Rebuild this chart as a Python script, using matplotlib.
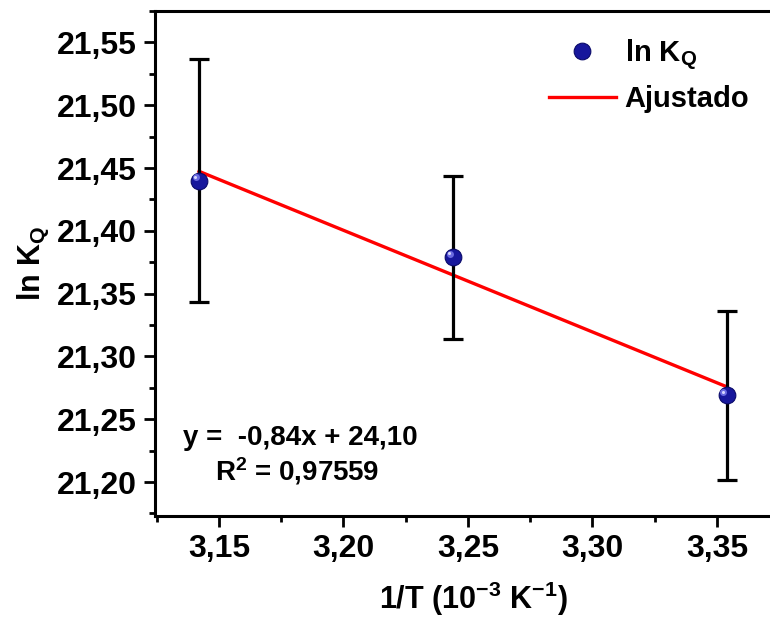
import matplotlib
matplotlib.use("Agg")
import matplotlib.pyplot as plt
import matplotlib.transforms as mtransforms
import numpy as np
from matplotlib.ticker import MultipleLocator, FixedLocator

plt.rcParams['font.family'] = ['Liberation Sans', 'DejaVu Sans']
plt.rcParams['font.weight'] = 'bold'
plt.rcParams['mathtext.fontset'] = 'custom'
plt.rcParams['mathtext.rm'] = 'Liberation Sans:bold'
plt.rcParams['mathtext.it'] = 'Liberation Sans:bold'
plt.rcParams['mathtext.bf'] = 'Liberation Sans:bold'
plt.rcParams['mathtext.default'] = 'rm'

# data
inv_T = [3.142, 3.244, 3.354]
ln_KQ = [21.440, 21.379, 21.269]
err = [0.097, 0.065, 0.067]

xticks = [3.15, 3.20, 3.25, 3.30, 3.35]
xticklabels = ['3,15', '3,20', '3,25', '3,30', '3,35']
yticks = [21.20, 21.25, 21.30, 21.35, 21.40, 21.45, 21.50, 21.55]
yticklabels = ['21,20', '21,25', '21,30', '21,35', '21,40', '21,45', '21,50', '21,55']

eq_text = 'y =  -0,84x + 24,10'
r2_text = 'R$^{2}$ = 0,97559'

fig = plt.figure(figsize=(7.7, 6.21), dpi=100)
ax = fig.add_axes([0.2013, 0.1691, 0.8267, 0.8132])

x = np.array(inv_T)
y = np.array(ln_KQ)
slope, intercept = np.polyfit(x, y, 1)
xf = np.array([x.min(), x.max()])
ax.plot(xf, slope * xf + intercept, color='#ff0000', lw=2.4, label='Ajustado', zorder=2)

ax.errorbar(x, y, yerr=err, fmt='none', ecolor='black', elinewidth=2.3,
            capsize=7, capthick=2.3, zorder=3)
pts, = ax.plot(x, y, 'o', color='#17179c', markersize=12, markeredgecolor='#0a0a6a',
               markeredgewidth=0.8, label='ln K$_{Q}$', zorder=4, linestyle='none')
# sphere highlight
hl = mtransforms.offset_copy(ax.transData, fig=fig, x=-2.5, y=2.5, units='points')
ax.plot(x, y, 'o', color='#6a6ae0', markersize=5, markeredgewidth=0,
        transform=hl, zorder=5, linestyle='none')
hl2 = mtransforms.offset_copy(ax.transData, fig=fig, x=-2.8, y=2.8, units='points')
ax.plot(x, y, 'o', color='#d8d8ff', markersize=2.2, markeredgewidth=0,
        transform=hl2, zorder=6, linestyle='none')

ax.set_xlim(3.1243, 3.38)
ax.set_ylim(21.173, 21.575)

ax.xaxis.set_major_locator(FixedLocator(xticks))
ax.set_xticklabels(xticklabels)
ax.yaxis.set_major_locator(FixedLocator(yticks))
ax.set_yticklabels(yticklabels)
ax.xaxis.set_minor_locator(MultipleLocator(0.025))
ax.yaxis.set_minor_locator(MultipleLocator(0.025))

ax.tick_params(which='major', direction='out', length=8, width=2, labelsize=23, pad=5)
ax.tick_params(which='minor', direction='out', length=4, width=2)
for lab in ax.get_xticklabels() + ax.get_yticklabels():
    lab.set_fontweight('bold')

for s in ax.spines.values():
    s.set_linewidth(2.2)
ax.spines['right'].set_visible(False)

ax.set_xlabel('1/T (10$^{-3}$ K$^{-1}$)', fontsize=22, fontweight='bold', labelpad=11)
ax.set_ylabel('ln K$_{Q}$', fontsize=22, fontweight='bold', labelpad=4)

ax.text(3.1355, 21.235, eq_text, fontsize=20, fontweight='bold', va='center', ha='left')
ax.text(3.1485, 21.209, r2_text, fontsize=20, fontweight='bold', va='center', ha='left')

h, l = ax.get_legend_handles_labels()
leg = ax.legend([pts, h[0]], ['ln K$_{Q}$', 'Ajustado'], loc='upper right',
                bbox_to_anchor=(0.975, 1.0),
                frameon=False, handlelength=2.3, handletextpad=0.3,
                labelspacing=0.45, prop={'weight': 'bold', 'size': 21})

fig.savefig('out.png', dpi=100)
